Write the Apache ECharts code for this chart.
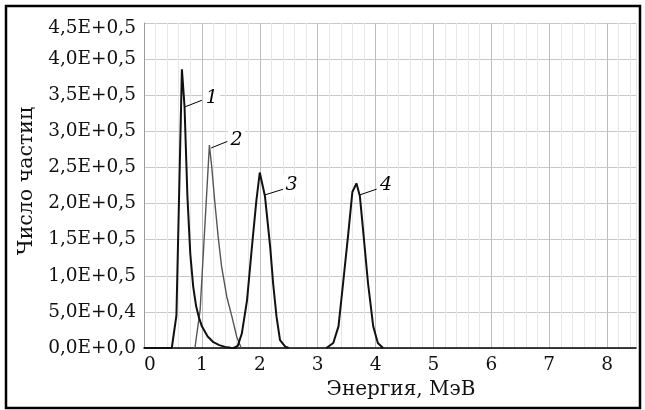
<!DOCTYPE html>
<html>
<head>
<meta charset="utf-8">
<script src="https://cdn.jsdelivr.net/npm/echarts@6/dist/echarts.min.js"></script>
<style>
html,body{margin:0;padding:0;background:#fff;}
#chart{width:645px;height:410px;}
</style>
</head>
<body>
<div id="chart"></div>
<script>
// Curve 1
const e1 = [0, 0.48, 0.56, 0.655, 0.70, 0.75, 0.80, 0.85, 0.90, 0.95, 1.00, 1.10, 1.20, 1.30, 1.40, 1.50, 1.60];
const n1 = [0, 0, 0.45, 3.86, 3.35, 2.1, 1.3, 0.85, 0.58, 0.42, 0.3, 0.16, 0.08, 0.04, 0.015, 0.005, 0];
// Curve 2
const e2 = [0.88, 0.97, 1.13, 1.17, 1.22, 1.28, 1.34, 1.43, 1.52, 1.60, 1.68];
const n2 = [0, 0.53, 2.81, 2.51, 2.05, 1.55, 1.13, 0.71, 0.43, 0.16, 0];
// Curve 3
const e3 = [1.55, 1.62, 1.69, 1.78, 1.86, 1.94, 2.0, 2.09, 2.18, 2.23, 2.29, 2.35, 2.44, 2.5];
const n3 = [0, 0.03, 0.2, 0.66, 1.36, 2.03, 2.43, 2.1, 1.4, 0.9, 0.43, 0.11, 0.02, 0];
// Curve 4
const e4 = [3.15, 3.27, 3.36, 3.44, 3.53, 3.60, 3.67, 3.73, 3.79, 3.87, 3.96, 4.04, 4.13];
const n4 = [0, 0.07, 0.30, 0.90, 1.59, 2.16, 2.28, 2.1, 1.59, 0.9, 0.30, 0.07, 0];

// Tick labels
const yLabels = ['0,0E+0,0', '5,0E+0,4', '1,0E+0,5', '1,5E+0,5', '2,0E+0,5', '2,5E+0,5', '3,0E+0,5', '3,5E+0,5', '4,0E+0,5', '4,5E+0,5'];
const curveNames = ['1', '2', '3', '4'];
// Leader lines [x1, y1, x2, y2] and label anchor [x, y] in data units
const leaderLines = [[0.712, 3.34, 1.0, 3.43], [1.16, 2.77, 1.44, 2.86], [2.09, 2.12, 2.41, 2.20], [3.73, 2.12, 4.02, 2.20]];
const labelPos = [[1.17, 3.46], [1.60, 2.88], [2.55, 2.25], [4.18, 2.25]];

const FONT = '"DejaVu Serif", "Liberation Serif", serif';
const es = [e1, e2, e3, e4];
const ns = [n1, n2, n3, n4];
const colors = ['#111', '#555', '#111', '#111'];
const widths = [2, 1.4, 2, 2];

const series = es.map((e, i) => ({
  type: 'line',
  name: curveNames[i],
  data: e.map((x, k) => [x, ns[i][k]]),
  showSymbol: false,
  symbol: 'none',
  z: 3 + (i === 1 ? 0 : 1),
  lineStyle: { color: colors[i], width: widths[i] },
  markLine: {
    silent: true,
    symbol: ['none', 'none'],
    lineStyle: { color: '#000', width: 1, type: 'solid' },
    label: { show: false },
    data: [[{ coord: [leaderLines[i][0], leaderLines[i][1]] }, { coord: [leaderLines[i][2], leaderLines[i][3]] }]]
  },
  markPoint: {
    silent: true,
    symbol: 'rect',
    symbolSize: [17, 22],
    itemStyle: { color: '#fff' },
    label: {
      show: true, position: 'inside', formatter: curveNames[i],
      color: '#000', fontFamily: FONT, fontStyle: 'italic', fontSize: 19
    },
    data: [{ coord: labelPos[i], value: curveNames[i] }]
  }
}));

const chart = echarts.init(document.getElementById('chart'));
chart.setOption({
  animation: false,
  backgroundColor: '#fff',
  grid: { left: 144, right: 9, top: 23, bottom: 62 },
  xAxis: {
    type: 'value', min: 0, max: 8.5, interval: 0.2,
    name: 'Энергия, МэВ', nameLocation: 'middle', nameGap: 30,
    nameTextStyle: { fontFamily: FONT, fontSize: 20, color: '#111', padding: [0, 0, 0, 22] },
    axisLine: { show: true, lineStyle: { color: '#000', width: 1.5 } },
    axisTick: { show: false },
    axisLabel: {
      fontFamily: FONT, fontSize: 18.5, color: '#111', margin: 8, showMaxLabel: false,
      formatter: v => (Math.abs(v - Math.round(v)) < 1e-6 ? (Math.round(v) === 0 ? '{z|0}' : String(Math.round(v))) : ''),
      rich: { z: { fontFamily: FONT, fontSize: 18.5, color: '#111', padding: [0, 0, 0, 12] } }
    },
    splitLine: { show: true, lineStyle: { color: ['#bdbdbd', '#e6e6e6', '#e6e6e6', '#e6e6e6', '#e6e6e6'], width: 1 } }
  },
  yAxis: {
    type: 'value', min: 0, max: 4.5, interval: 0.5,
    name: 'Число частиц', nameLocation: 'middle', nameGap: 104,
    nameTextStyle: { fontFamily: FONT, fontSize: 20.5, color: '#111', padding: [0, 0, 0, 9] },
    axisLine: { show: true, lineStyle: { color: '#9a9a9a', width: 1 } },
    axisTick: { show: false },
    axisLabel: {
      fontFamily: FONT, fontSize: 18.5, color: '#111', margin: 8,
      formatter: v => {
        const k = Math.round(v / 0.5);
        return k === yLabels.length - 1 ? '{t|' + yLabels[k] + '}' : yLabels[k];
      },
      rich: { t: { fontFamily: FONT, fontSize: 18.5, color: '#111', padding: [10, 0, 0, 0] } }
    },
    splitLine: { show: true, lineStyle: { color: '#c8c8c8', width: 1 } }
  },
  graphic: [{
    type: 'rect', silent: true, z: 100,
    shape: { x: 6, y: 6, width: 634, height: 402 },
    style: { fill: 'none', stroke: '#000', lineWidth: 2.5 }
  }],
  series: series
});
</script>
</body>
</html>
